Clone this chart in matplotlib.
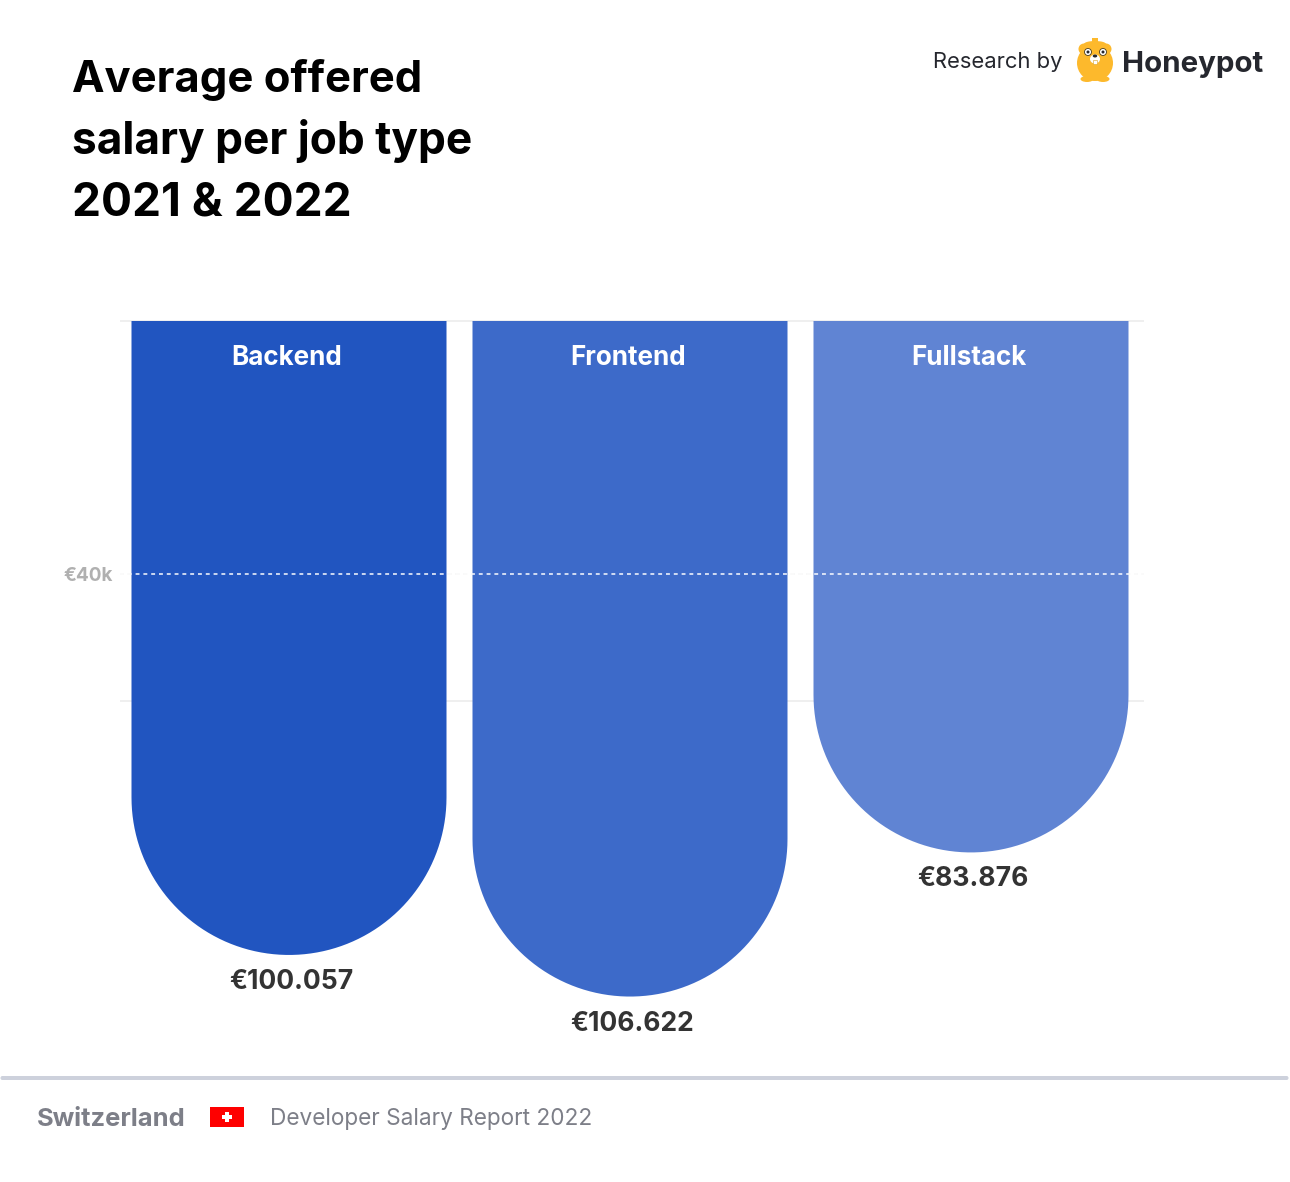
#!/usr/bin/env python3
import matplotlib
matplotlib.use('Agg')
import matplotlib.pyplot as plt
from matplotlib.patches import Ellipse, FancyBboxPatch, PathPatch, Rectangle
from matplotlib.path import Path
import numpy as np

FONT = 'Inter'
W, H = 1290, 1182

categories = ['Backend', 'Frontend', 'Fullstack']
salaries = [100057, 106622, 83876]
value_labels = ['€100.057', '€106.622', '€83.876']
bar_colors = ['#2155c0', '#3d6ac9', '#6084d3']
grid_values = [0, 40000, 60000]
grid_labels = ['', '€40k', '']

title_lines = ['Average offered', 'salary per job type', '2021 & 2022']
title_sizes = [43.6, 44.2, 46]

PX = 0.72  # points per pixel at dpi 100
TOP_PX = 321
EURO_PX = 0.006336  # pixels per euro
STEP_PX = 341
CENTER0_PX = 289
BAR_W = 315 / STEP_PX

plt.rcParams['font.family'] = [FONT, 'DejaVu Sans']
fig = plt.figure(figsize=(W / 100, H / 100), dpi=100, facecolor='white')

# chart axes, bars hang down from zero at the top
left, right, bottom = 120, 1144, 1060
ax = fig.add_axes([left / W, 1 - bottom / H, (right - left) / W, (bottom - TOP_PX) / H])
ax.set_xlim((left - CENTER0_PX) / STEP_PX, (right - CENTER0_PX) / STEP_PX)
ax.set_ylim((bottom - TOP_PX) / EURO_PX, 0)
ax.patch.set_alpha(0)
for s in ax.spines.values():
    s.set_visible(False)
ax.set_xticks([])
ax.set_yticks(grid_values, grid_labels)
ax.tick_params(axis='y', length=0, pad=7.5 * PX, labelsize=19 * PX, labelcolor='#b0b0b0')
for lab in ax.get_yticklabels():
    lab.set_fontweight('bold')


def hanging_bar(x, value, color):
    # flat top at zero, half ellipse in data units comes out round on screen
    half = BAR_W / 2
    r_y = (half * STEP_PX) / EURO_PX
    t = np.linspace(np.pi, 0, 80)
    xs = x + half * np.cos(t)
    ys = value - r_y + r_y * np.sin(t)
    verts = [(x - half, 0)] + list(zip(xs, ys)) + [(x + half, 0), (x - half, 0)]
    codes = [Path.MOVETO] + [Path.LINETO] * (len(verts) - 2) + [Path.CLOSEPOLY]
    ax.add_patch(PathPatch(Path(verts, codes), fc=color, ec='none', zorder=3))


ax.hlines(0, *ax.get_xlim(), color='#efefef', lw=2 * PX, zorder=1, clip_on=False)
ax.hlines(60000, *ax.get_xlim(), color='#efefef', lw=2 * PX, zorder=1)
ax.hlines(40000, *ax.get_xlim(), color='#e8e8e8', lw=1.5 * PX, zorder=1, linestyles=(0, (2.6, 2.6)))

for i, (name, val, lab, col) in enumerate(zip(categories, salaries, value_labels, bar_colors)):
    hanging_bar(i, val, col)
    ax.annotate(name, xy=(i, 0), xytext=(-2 * PX, -44 * PX), textcoords='offset points',
                ha='center', va='baseline', color='white', fontsize=26 * PX, fontweight='bold', zorder=5)
    ax.annotate(lab, xy=(i, val), xytext=(2 * PX, -34 * PX), textcoords='offset points',
                ha='center', va='baseline', color='#333333', fontsize=26.5 * PX, fontweight='bold', zorder=5)
ax.hlines(40000, *ax.get_xlim(), color='white', lw=1.5 * PX, zorder=4, linestyles=(0, (2.6, 2.6)))

# page furniture drawn in pixel coordinates
pg = fig.add_axes([0, 0, 1, 1], zorder=10)
pg.set_xlim(0, W)
pg.set_ylim(H, 0)
pg.axis('off')
pg.patch.set_alpha(0)

for line, base, size in zip(title_lines, [92, 154, 216], title_sizes):
    pg.text(72, base, line, fontsize=size * PX, fontweight='bold', color='black', va='baseline')

pg.text(933, 68, 'Research by', fontsize=22 * PX, color='#25272e', va='baseline')
pg.text(1122, 72, 'Honeypot', fontsize=29.5 * PX, fontweight='bold', color='#25272e', va='baseline')

# bear logo
honey = '#fdb92c'
pg.add_patch(Rectangle((1092, 38), 6, 5, fc=honey, ec='none'))
pg.add_patch(Ellipse((1095, 44), 22, 6, fc=honey, ec='none'))
pg.add_patch(Ellipse((1084, 49), 11, 11, fc=honey, ec='none'))
pg.add_patch(Ellipse((1106, 49), 11, 11, fc=honey, ec='none'))
pg.add_patch(Ellipse((1095, 63), 36, 36, fc=honey, ec='none'))
pg.add_patch(Ellipse((1087, 79), 13, 6, fc=honey, ec='none'))
pg.add_patch(Ellipse((1103, 79), 13, 6, fc=honey, ec='none'))
for ex in (1088, 1103):
    pg.add_patch(Ellipse((ex, 52), 7, 7, fc='white', ec='#4a3c1c', lw=0.6))
    pg.add_patch(Ellipse((ex, 52), 3, 3, fc='#25272e', ec='none'))
pg.add_patch(Ellipse((1095, 59), 10, 9, fc='white', ec='none'))
pg.add_patch(Ellipse((1095, 56), 4.5, 3, fc='#25272e', ec='none'))
pg.add_patch(Rectangle((1093, 60), 4, 4, fc='white', ec='#d9a020', lw=0.4))

# footer
pg.add_patch(FancyBboxPatch((1, 1076.5), 1287, 3, boxstyle='round,pad=0,rounding_size=1.5', fc='#cdd1dc', ec='#cdd1dc', lw=0.7))
pg.text(37, 1126, 'Switzerland', fontsize=25.5 * PX, fontweight='bold', color='#7d7f88', va='baseline')
pg.add_patch(Rectangle((210, 1107), 34, 20, fc='#fe0000', ec='none'))
pg.add_patch(Rectangle((222, 1115), 10, 3.5, fc='white', ec='none'))
pg.add_patch(Rectangle((225.2, 1111.5), 3.5, 10.5, fc='white', ec='none'))
pg.text(270, 1125, 'Developer Salary Report 2022', fontsize=22.6 * PX, color='#7d7f88', va='baseline')

fig.savefig('out.png', dpi=100, facecolor='white')
